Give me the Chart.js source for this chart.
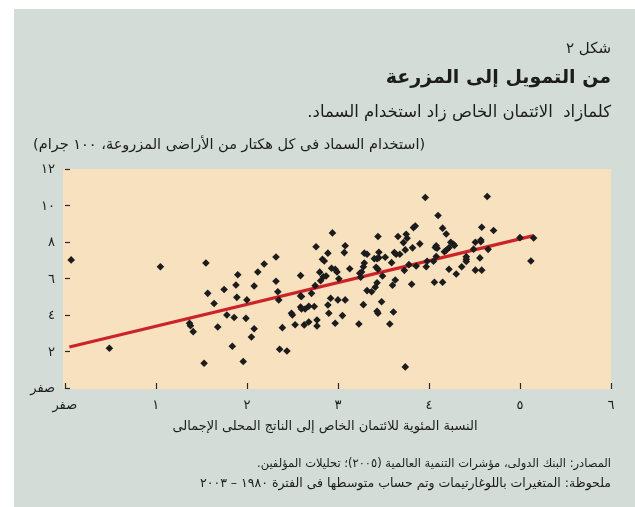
<!DOCTYPE html>
<html lang="ar"><head><meta charset="utf-8">
<script src="https://cdn.jsdelivr.net/npm/chart.js@4.4.1/dist/chart.umd.min.js"></script>
<style>html,body{margin:0;padding:0;background:#fff;overflow:hidden}#wrap{position:absolute;left:0;top:0;width:635px;height:507px}</style>
</head><body><div id="wrap"><canvas id="c" width="635" height="507"></canvas></div>
<script>
// ---- data ----
const creditShare = [
0.07,1.05,0.49,1.55,1.57,1.37,1.38,1.41,1.53,1.64,1.68,1.75,1.78,1.84,1.86,1.88,1.89,1.90,1.96,1.99,2.00,2.05,2.08,2.08,2.12,2.19,2.32,2.32,2.34,2.35,2.36,2.39,2.44,2.49,2.50,2.53,2.59,2.59,2.60,2.59,2.60,2.64,2.63,2.68,2.68,2.74,2.71,2.75,2.76,2.80,2.77,2.77,2.81,
2.94,3.08,3.07,2.89,2.83,2.85,3.44,3.66,3.75,3.76,3.72,3.83,3.85,3.90,3.82,3.74,3.29,3.32,3.45,3.40,3.43,3.45,3.52,3.62,3.64,3.68,3.59,3.29,3.28,3.26,3.24,3.25,3.13,2.93,2.97,2.99,2.87,2.84,3.01,3.42,3.44,3.49,3.43,3.41,3.37,3.32,3.63,3.60,3.73,3.78,3.86,3.97,3.81,2.92,3.00,3.08,2.89,3.28,3.48,2.90,3.05,3.43,3.44,3.61,2.97,3.23,3.57,3.74,3.96,
4.10,4.15,4.19,4.58,4.71,4.07,4.08,4.09,4.24,4.27,4.28,4.22,4.17,4.19,4.51,4.57,4.57,4.49,4.65,4.64,5.00,5.15,5.12,4.08,3.98,4.05,4.41,4.41,4.41,4.56,4.36,4.22,4.30,4.51,4.58,4.06,4.15
];
const fertilizerUse = [
7.07,6.70,2.23,6.90,5.24,3.60,3.47,3.14,1.41,4.68,3.40,5.45,4.05,2.34,3.92,5.70,5.02,6.26,1.51,3.87,4.88,2.85,5.64,3.30,6.41,6.85,7.23,5.90,5.33,4.88,2.18,3.36,2.08,4.15,4.05,3.52,6.21,5.10,5.07,4.49,4.38,4.38,3.51,3.67,4.53,4.52,5.24,5.66,7.79,6.40,3.78,3.45,5.93,
8.55,7.85,7.47,7.44,7.11,7.01,8.35,8.35,8.48,8.26,8.02,8.84,8.93,7.95,7.73,7.62,7.44,7.38,7.49,7.14,7.14,7.19,7.22,7.47,7.38,7.38,6.92,6.90,6.70,6.41,6.34,6.12,6.59,6.61,6.56,6.41,6.19,6.15,6.04,6.67,6.56,6.19,5.82,5.57,5.33,5.39,5.97,5.68,6.50,6.81,6.74,6.70,5.74,4.97,4.88,4.88,4.60,4.62,4.78,4.15,4.02,4.26,4.15,4.22,3.60,3.56,3.56,1.21,10.49,
9.50,8.81,8.49,8.86,8.68,7.75,7.84,7.71,8.04,7.93,7.86,7.74,7.52,7.60,8.04,8.16,8.07,7.66,7.65,10.54,8.29,8.27,7.01,7.26,7.00,7.00,7.25,7.11,6.99,7.18,6.70,6.56,6.30,6.51,6.51,5.85,5.85
];
const fitLineX = [0.05, 5.15];
const fitLineY = [2.30, 8.40];
const xTickValues = [0,1,2,3,4,5,6];
const xTickLabels = ['صفر','١','٢','٣','٤','٥','٦'];
const yTickValues = [0,2,4,6,8,10,12];
const yTickLabels = ['صفر','٢','٤','٦','٨','١٠','١٢'];
const figureLabel = 'شكل ٢';
const titleText = 'من التمويل إلى المزرعة';
const subtitleText = 'كلمازاد  الائتمان الخاص زاد استخدام السماد.';
const yAxisTitle = '(استخدام السماد فى كل هكتار من الأراضى المزروعة، ١٠٠ جرام)';
const xAxisTitle = 'النسبة المئوية للائتمان الخاص إلى الناتج المحلى الإجمالى';
const sourceText = 'المصادر: البنك الدولى، مؤشرات التنمية العالمية (٢٠٠٥)؛ تحليلات المؤلفين.';
const noteText = 'ملحوظة: المتغيرات باللوغارتيمات وتم حساب متوسطها فى الفترة ١٩٨٠ – ٢٠٠٣';

// ---- style ----
const FONT = "'DejaVu Sans', 'Noto Sans', sans-serif";
const PANEL = '#d3dcd7';
const PLOT = '#f7e1bf';
const INK = '#1c1c1c';

const points = creditShare.map((v,i)=>({x:v, y:fertilizerUse[i]}));
const fitLine = fitLineX.map((v,i)=>({x:v, y:fitLineY[i]}));

const bgPlugin = {
  id:'bg',
  beforeDraw(chart){
    const {ctx, chartArea:a} = chart;
    ctx.save();
    ctx.fillStyle = '#ffffff';
    ctx.fillRect(0,0,chart.width,chart.height);
    ctx.fillStyle = PANEL;
    ctx.fillRect(14,9,chart.width-14,chart.height-9);
    ctx.fillStyle = PLOT;
    ctx.fillRect(a.left, a.top, a.right-a.left, a.bottom-a.top);
    ctx.restore();
  }
};

const innerTicks = {
  id:'innerTicks',
  beforeDatasetsDraw(chart){
    const {ctx, chartArea:a, scales:{x,y}} = chart;
    ctx.save();
    ctx.strokeStyle = '#2a2a2a';
    ctx.lineWidth = 1.2;
    yTickValues.forEach(v=>{
      const py = Math.round(y.getPixelForValue(v)) - 0.5;
      ctx.beginPath(); ctx.moveTo(a.left+2, py); ctx.lineTo(a.left+7, py); ctx.stroke();
    });
    xTickValues.forEach(v=>{
      const px = Math.round(x.getPixelForValue(v)) + 0.5;
      ctx.beginPath(); ctx.moveTo(px, a.bottom); ctx.lineTo(px, a.bottom-6); ctx.stroke();
    });
    ctx.restore();
  }
};

const texts = {
  id:'texts',
  afterDraw(chart){
    const ctx = chart.ctx;
    ctx.save();
    ctx.fillStyle = INK;
    ctx.direction = 'rtl';
    ctx.textBaseline = 'middle';
    ctx.textAlign = 'right';
    ctx.font = '15px ' + FONT; ctx.fillText(figureLabel, 611, 49);
    ctx.font = 'bold 19px ' + FONT; ctx.fillText(titleText, 611, 78);
    ctx.font = '16.5px ' + FONT; ctx.fillText(subtitleText, 611, 113);
    ctx.font = '14.5px ' + FONT; ctx.textAlign = 'left'; ctx.fillText(yAxisTitle, 33, 145);
    ctx.font = '13px ' + FONT; ctx.textAlign = 'center'; ctx.fillText(xAxisTitle, 325, 427);
    ctx.textAlign = 'right';
    ctx.font = '11.5px ' + FONT; ctx.fillText(sourceText, 611, 464);
    ctx.font = '12.5px ' + FONT; ctx.fillText(noteText, 611, 484);
    ctx.restore();
  }
};

new Chart(document.getElementById('c'), {
  data:{
    datasets:[
      {type:'scatter', data:points, pointStyle:'rectRot', pointRadius:3.8, pointHoverRadius:3.8,
       backgroundColor:INK, borderColor:INK, borderWidth:0, order:1},
      {type:'line', data:fitLine, borderColor:'#cc2229', borderWidth:3.2, pointRadius:0,
       fill:false, tension:0, order:2}
    ]
  },
  options:{
    responsive:false, animation:false, devicePixelRatio:1,
    events:[],
    layout:{padding:{top:169, right:24, left:0, bottom:0}},
    plugins:{legend:{display:false}, tooltip:{enabled:false}},
    scales:{
      x:{type:'linear', min:-0.02, max:6,
         afterBuildTicks(s){ s.ticks = xTickValues.map(v=>({value:v})); },
         afterFit(s){ s.height = 118; },
         grid:{display:false, drawTicks:false}, border:{display:false},
         ticks:{padding:9, color:INK, font:{family:FONT, size:13},
                callback:(v)=>{const i=xTickValues.indexOf(v); return i>=0?xTickLabels[i]:'';},
                maxRotation:0, autoSkip:false}},
      y:{type:'linear', min:0, max:12.05,
         afterBuildTicks(s){ s.ticks = yTickValues.map(v=>({value:v})); },
         afterFit(s){ s.width = 63; },
         grid:{display:false, drawTicks:false}, border:{display:false},
         ticks:{padding:8, color:INK, font:{family:FONT, size:13},
                callback:(v)=>{const i=yTickValues.indexOf(v); return i>=0?yTickLabels[i]:'';},
                autoSkip:false}}
    }
  },
  plugins:[bgPlugin, innerTicks, texts]
});
</script></body></html>
